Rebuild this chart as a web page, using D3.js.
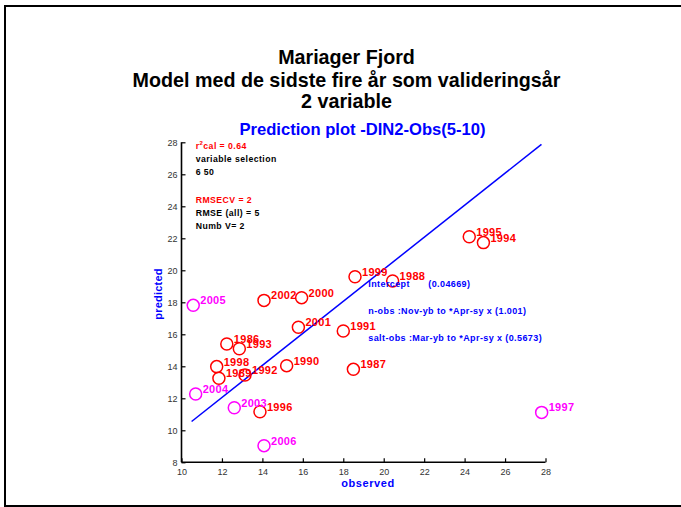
<!DOCTYPE html>
<html><head><meta charset="utf-8">
<script src="https://cdn.jsdelivr.net/npm/d3@7"></script>
<style>body{margin:0;background:#fff}svg{display:block}text{font-family:"Liberation Sans",Arial,sans-serif}</style>
</head><body>
<script>
const years = ["1995","1994","1999","1988","2002","2000","2001","1991","1986","1993","1998","1989","1992","1990","1987","1996","2005","2004","2003","2006","1997"];
const observed = [24.23,24.93,18.58,20.44,14.08,15.94,15.78,18.0,12.24,12.86,11.74,11.85,13.14,15.2,18.5,13.88,10.58,10.7,12.61,14.08,27.81];
const predicted = [22.1,21.73,19.6,19.33,18.12,18.29,16.44,16.21,15.39,15.1,13.98,13.25,13.46,14.04,13.81,11.16,17.81,12.27,11.41,9.04,11.12];
const group = ["cal","cal","cal","cal","cal","cal","cal","cal","cal","cal","cal","cal","cal","cal","cal","cal","val","val","val","val","val"];
const fitX = [10.5, 27.8];
const fitY = [10.55, 27.87];
const xTicks = [10,12,14,16,18,20,22,24,26,28];
const yTicks = [8,10,12,14,16,18,20,22,24,26,28];
const titleLines = ["Mariager Fjord","Model med de sidste fire år som valideringsår","2 variable"];
const subtitle = "Prediction plot -DIN2-Obs(5-10)";
const statsLines = [["r²cal = 0.64","#ff0000"],["variable selection","#000"],["6 50","#000"],["",""],["RMSECV = 2","#ff0000"],["RMSE (all) = 5","#000"],["Numb V= 2","#000"]];
const legendLines = ["n-obs :Nov-yb to *Apr-sy x (1.001)","salt-obs :Mar-yb to *Apr-sy x (0.5673)"];
const interceptLabel = ["Intercept","(0.04669)"];

const W=681,H=507;
const svg=d3.select("body").append("svg").attr("width",W).attr("height",H);
// figure border
svg.append("path").attr("d","M5,507 L5,6 L681,6").attr("fill","none").attr("stroke","#000").attr("stroke-width",2);
svg.append("line").attr("x1",4).attr("x2",681).attr("y1",506).attr("y2",506).attr("stroke","#000").attr("stroke-width",2);

const x=d3.scaleLinear().domain([10,28]).range([181.5,545.5]);
const y=d3.scaleLinear().domain([8,28]).range([462.3,142.3]);

// titles
const tY=[64,86.5,108.3];
titleLines.forEach((t,i)=>svg.append("text").attr("x",346.5).attr("y",tY[i]).attr("text-anchor","middle")
  .attr("font-size",19.7).attr("font-weight","bold").attr("fill","#000").text(t));
svg.append("text").attr("x",362.5).attr("y",135).attr("text-anchor","middle").attr("font-size",16.6)
  .attr("font-weight","bold").attr("fill","#0000ff").text(subtitle);

// axes
const xAx=svg.append("g").attr("transform",`translate(0,${y(8)})`)
  .call(d3.axisBottom(x).tickValues(xTicks).tickSize(-4).tickPadding(6).tickFormat(d3.format("d")));
const yAx=svg.append("g").attr("transform",`translate(${x(10)},0)`)
  .call(d3.axisLeft(y).tickValues(yTicks).tickSize(-4).tickPadding(4).tickFormat(d3.format("d")));
[xAx,yAx].forEach(g=>{
  g.select(".domain").attr("stroke","#000").attr("stroke-width",1.6);
  g.selectAll(".tick line").attr("stroke","#000").attr("stroke-width",1.2);
  g.selectAll(".tick text").attr("font-size",9).attr("fill","#333").attr("font-family","Liberation Sans, Arial, sans-serif");
});
xAx.select(".domain").attr("d",`M${x(10)},0H${x(28)}`);
yAx.select(".domain").attr("d",`M0,${y(8)}V${y(28)}`);
yAx.selectAll(".tick text").attr("dy","0.35em");

// axis labels
svg.append("text").attr("x",368).attr("y",487).attr("text-anchor","middle").attr("font-size",11)
  .attr("font-weight","bold").attr("letter-spacing",0.6).attr("fill","#0000ff").text("observed");
svg.append("text").attr("transform","translate(162,294) rotate(-90)").attr("text-anchor","middle").attr("font-size",11)
  .attr("font-weight","bold").attr("letter-spacing",0.2).attr("fill","#0000ff").text("predicted");

// fit line
svg.append("line").attr("x1",x(fitX[0])).attr("y1",y(fitY[0])).attr("x2",x(fitX[1])).attr("y2",y(fitY[1]))
  .attr("stroke","#0000ff").attr("stroke-width",1.5);

// stats text
const sY=[149.3,161.7,175,189,202.7,216,229.3];
statsLines.forEach((s,i)=>{
  if(!s[0])return;
  const t=svg.append("text").attr("x",195.7).attr("y",sY[i]).attr("font-size",8.7).attr("font-weight","bold")
    .attr("letter-spacing",0.45).attr("fill",s[1]);
  if(s[0].startsWith("r²")){
    t.append("tspan").text("r");
    t.append("tspan").attr("font-size",6).attr("dy",-4).text("2");
    t.append("tspan").attr("dy",4).text(s[0].slice(2));
  } else t.text(s[0]);
});

// points
const col={cal:"#ff0000",val:"#ff00ff"};
const pts=svg.append("g");
years.forEach((yr,i)=>{
  const cx=x(observed[i]), cy=y(predicted[i]);
  pts.append("circle").attr("cx",cx).attr("cy",cy).attr("r",6).attr("fill","none")
    .attr("stroke",col[group[i]]).attr("stroke-width",1.5);
  pts.append("text").attr("x",cx+7).attr("y",cy-1).attr("font-size",11).attr("font-weight","bold")
    .attr("letter-spacing",0.3).attr("fill",col[group[i]]).text(yr);
});

// legend text
const lFont=9, lSp=0.4;
svg.append("text").attr("x",368.3).attr("y",286.7).attr("font-size",lFont).attr("font-weight","bold")
  .attr("letter-spacing",lSp).attr("fill","#0000ff").text(interceptLabel[0]);
svg.append("text").attr("x",428.3).attr("y",286.7).attr("font-size",lFont).attr("font-weight","bold")
  .attr("letter-spacing",lSp).attr("fill","#0000ff").text(interceptLabel[1]);
legendLines.forEach((t,i)=>svg.append("text").attr("x",368.3).attr("y",[314,340.7][i]).attr("font-size",lFont)
  .attr("font-weight","bold").attr("letter-spacing",lSp).attr("fill","#0000ff").text(t));
</script>
</body></html>
